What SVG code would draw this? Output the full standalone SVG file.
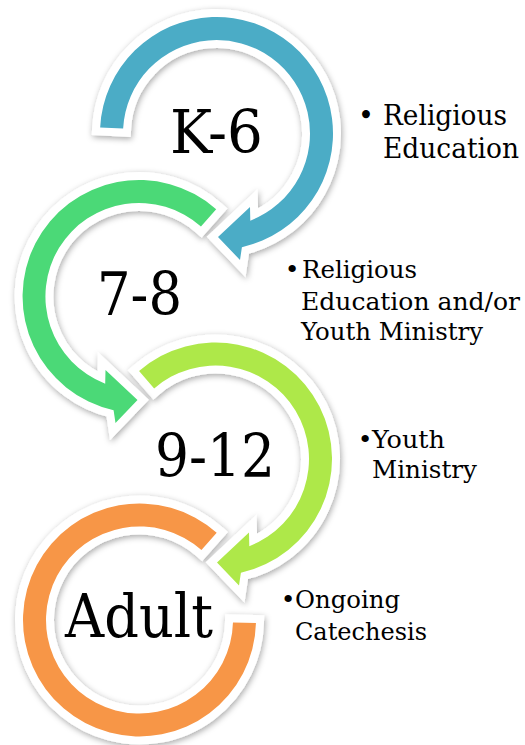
<svg xmlns="http://www.w3.org/2000/svg" width="525" height="745" viewBox="0 0 525 745">
<defs>
<filter id="sh" x="-20%" y="-20%" width="140%" height="140%">
<feDropShadow dx="1" dy="2" stdDeviation="3" flood-color="#000" flood-opacity="0.35"/>
</filter>
<style>
.ring{stroke:#fff;stroke-width:16;paint-order:stroke;stroke-linejoin:miter;filter:url(#sh)}
.big{font-family:"DejaVu Serif","Liberation Serif",serif;font-size:59px;text-anchor:middle;fill:#000}
.s1{font-family:"DejaVu Serif","Liberation Serif",serif;font-size:27px;fill:#000}
.s2{font-family:"DejaVu Serif","Liberation Serif",serif;font-size:25px;fill:#000}
.bul{text-anchor:middle}
</style>
</defs>
<rect width="525" height="745" fill="#fff"/>
<g id="connectors">
<path id="arc-adult" class="ring" fill="#F79646" d="M216.69,532.74 A116.5,116.5 0 1 0 255.96,623.05 L232.97,622.45 A93.5,93.5 0 1 1 201.45,549.97 Z"/>
<path id="arc-912" class="ring" fill="#AEE84A" d="M139.07,371.08 A116.5,116.5 0 1 1 240.91,572.69 L239,585.5 L217,562.5 L249,532.5 L249.31,546.17 A93.5,93.5 0 1 0 154.16,388.43 Z"/>
<path id="arc-78" class="ring" fill="#4BD977" d="M216.2,209.2 A116.5,116.5 0 1 0 113.59,410.19 L115.5,423 L137.5,400 L105.5,370 L105.19,383.67 A93.5,93.5 0 1 1 200.95,226.5 Z"/>
<path id="arc-k6" class="ring" fill="#4BACC6" d="M100.16,127.4 A116.5,116.5 0 1 1 241.9,247.2 L240,260 L218,237 L250,207 L250.3,220.7 A93.5,93.5 0 1 0 123.13,128.6 Z"/>
</g>
<g id="node-k6"><text class="big" x="216.5" y="153" textLength="93" lengthAdjust="spacingAndGlyphs">K-6</text></g>
<g id="node-78"><text class="big" x="139.5" y="315" textLength="85" lengthAdjust="spacingAndGlyphs">7-8</text></g>
<g id="node-912"><text class="big" x="215" y="477" textLength="120" lengthAdjust="spacingAndGlyphs">9-12</text></g>
<g id="node-adult"><text class="big" x="139" y="637" textLength="148" lengthAdjust="spacingAndGlyphs">Adult</text></g>
<g id="desc-k6">
<text class="s1 bul" x="366" y="125">•</text>
<text class="s1" x="383" y="125" textLength="124" lengthAdjust="spacingAndGlyphs">Religious</text>
<text class="s1" x="383" y="158" textLength="136" lengthAdjust="spacingAndGlyphs">Education</text>
</g>
<g id="desc-78">
<text class="s2 bul" x="292" y="278">•</text>
<text class="s2" x="302" y="278" textLength="115" lengthAdjust="spacingAndGlyphs">Religious</text>
<text class="s2" x="301" y="310" textLength="219" lengthAdjust="spacingAndGlyphs">Education and/or</text>
<text class="s2" x="301" y="340" textLength="182" lengthAdjust="spacingAndGlyphs">Youth Ministry</text>
</g>
<g id="desc-912">
<text class="s2 bul" x="365" y="448">•</text>
<text class="s2" x="372" y="448" textLength="73" lengthAdjust="spacingAndGlyphs">Youth</text>
<text class="s2" x="372" y="478" textLength="105" lengthAdjust="spacingAndGlyphs">Ministry</text>
</g>
<g id="desc-adult">
<text class="s2 bul" x="288" y="608">•</text>
<text class="s2" x="295" y="608" textLength="105" lengthAdjust="spacingAndGlyphs">Ongoing</text>
<text class="s2" x="295" y="640" textLength="132" lengthAdjust="spacingAndGlyphs">Catechesis</text>
</g>
</svg>
